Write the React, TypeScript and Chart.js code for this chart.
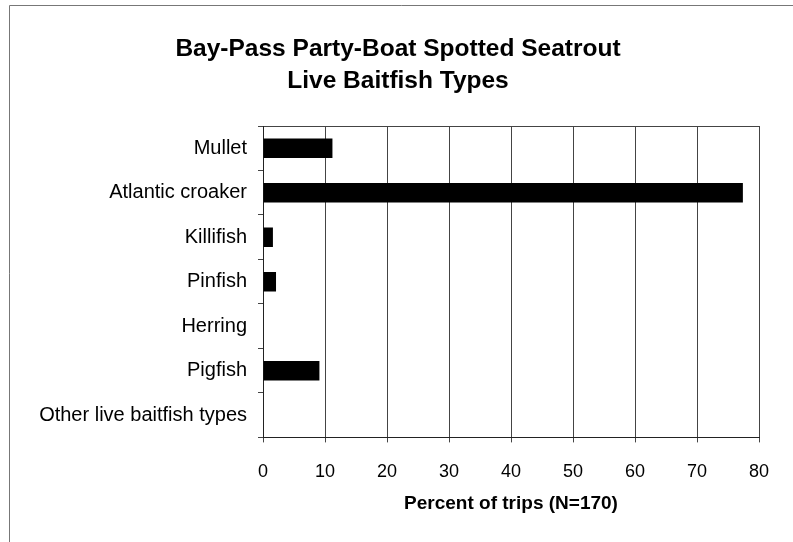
import React, { useEffect, useRef } from "react";
import { Chart, registerables } from "chart.js";

Chart.register(...registerables);

const titleLines = ["Bay-Pass Party-Boat Spotted Seatrout", "Live Baitfish Types"];
const categories = [
  "Mullet",
  "Atlantic croaker",
  "Killifish",
  "Pinfish",
  "Herring",
  "Pigfish",
  "Other live baitfish types",
];
const percentOfTrips = [11.2, 77.4, 1.6, 2.1, 0, 9.1, 0];
const xAxisTitle = "Percent of trips (N=170)";
const xMin = 0;
const xMax = 80;
const xStep = 10;

const FONT = "'Liberation Sans', Arial, Helvetica, sans-serif";

const framePlugin = {
  id: "frame",
  beforeDraw(chart: any) {
    const { ctx, width, height } = chart;
    ctx.save();
    ctx.fillStyle = "#ffffff";
    ctx.fillRect(0, 0, width, height);
    ctx.strokeStyle = "#777777";
    ctx.lineWidth = 1;
    ctx.beginPath();
    ctx.moveTo(9.5, height);
    ctx.lineTo(9.5, 5.5);
    ctx.lineTo(width, 5.5);
    ctx.stroke();
    ctx.restore();
  },
  afterDraw(chart: any) {
    const { ctx, chartArea } = chart;
    ctx.save();
    ctx.fillStyle = "#000000";
    ctx.textAlign = "center";
    ctx.textBaseline = "middle";
    ctx.font = `bold 24.5px ${FONT}`;
    ctx.fillText(titleLines[0], 398, 49);
    ctx.fillText(titleLines[1], 398, 81);
    ctx.font = `bold 19px ${FONT}`;
    ctx.fillText(xAxisTitle, (chartArea.left + chartArea.right) / 2, 504);
    ctx.restore();
  },
};

export default function App() {
  const ref = useRef<HTMLCanvasElement | null>(null);

  useEffect(() => {
    if (!ref.current) return;
    const chart = new Chart(ref.current, {
      type: "bar",
      data: {
        labels: categories,
        datasets: [
          {
            data: percentOfTrips,
            backgroundColor: "#000000",
            borderWidth: 0,
            barPercentage: 0.44,
            categoryPercentage: 1,
          },
        ],
      },
      options: {
        indexAxis: "y",
        animation: false,
        responsive: true,
        maintainAspectRatio: false,
        layout: { padding: { left: 0, right: 34, top: 126, bottom: 40 } },
        plugins: {
          legend: { display: false },
          tooltip: { enabled: false },
          title: { display: false },
        },
        scales: {
          x: {
            type: "linear",
            min: xMin,
            max: xMax,
            ticks: {
              stepSize: xStep,
              color: "#000000",
              font: { family: FONT, size: 18 },
              padding: 19,
            },
            grid: {
              color: "#444444",
              lineWidth: 1,
              tickLength: 5,
              tickColor: "#444444",
            },
            border: { color: "#222222", width: 1 },
          },
          y: {
            type: "category",
            offset: true,
            ticks: {
              color: "#000000",
              font: { family: FONT, size: 20 },
              padding: 11,
            },
            grid: {
              offset: true,
              drawOnChartArea: true,
              color: (c: any) => (c.index === 0 ? "#444444" : "rgba(0,0,0,0)"),
              tickColor: "#444444",
              tickLength: 5,
            },
            border: { color: "#222222", width: 1 },
            afterFit: (scale: any) => {
              scale.width = 263;
            },
          },
        },
      },
      plugins: [framePlugin],
    });
    return () => chart.destroy();
  }, []);

  return (
    <div style={{ position: "fixed", left: 0, top: 0, width: 793, height: 542, background: "#fff" }}>
      <canvas ref={ref} />
    </div>
  );
}
